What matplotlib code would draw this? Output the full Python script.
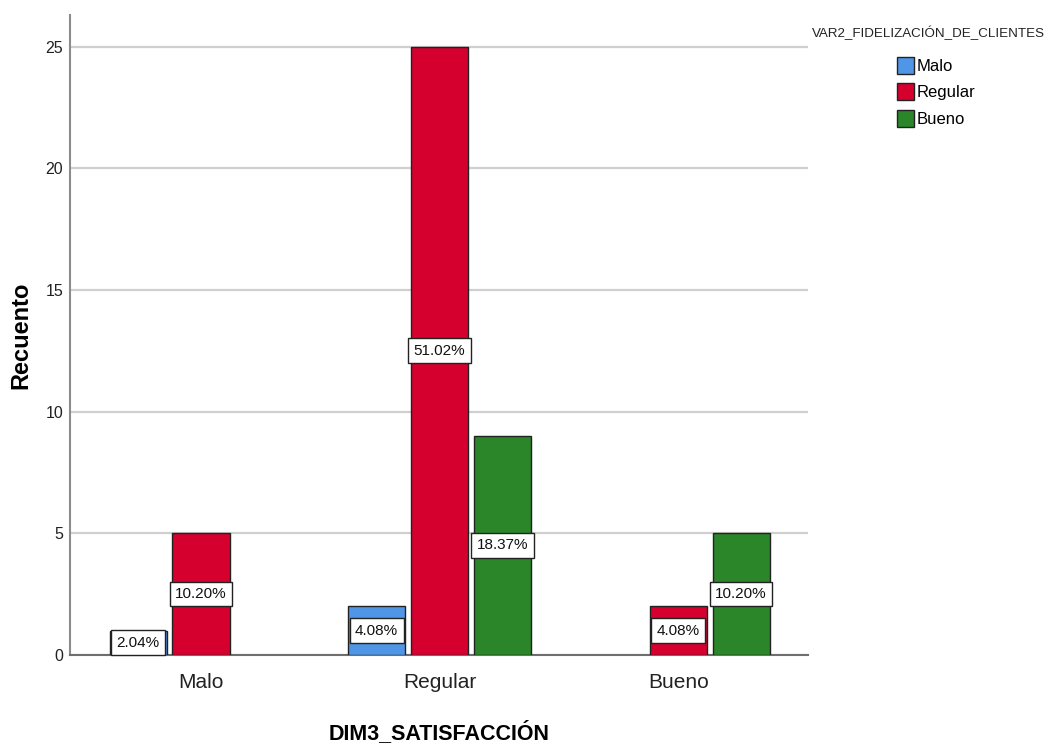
import matplotlib
matplotlib.use("Agg")
import matplotlib.pyplot as plt

plt.rcParams["font.family"] = ["Liberation Sans", "DejaVu Sans"]

categories = ["Malo", "Regular", "Bueno"]
series = ["Malo", "Regular", "Bueno"]
counts = {
    "Malo": [1, 2, 0],
    "Regular": [5, 25, 2],
    "Bueno": [0, 9, 5],
}
percents = {
    "Malo": ["2.04%", "4.08%", None],
    "Regular": ["10.20%", "51.02%", "4.08%"],
    "Bueno": [None, "18.37%", "10.20%"],
}
colors = {"Malo": "#5096E6", "Regular": "#D6002F", "Bueno": "#2A8629"}
y_ticks = [0, 5, 10, 15, 20, 25]

fig = plt.figure(figsize=(10.53, 7.46), dpi=100)
ax = fig.add_axes([0.0665, 0.122, 0.701, 0.858])

offset = 0.264
width = 0.239
for i, s in enumerate(series):
    for j, cat in enumerate(categories):
        v = counts[s][j]
        if v <= 0:
            continue
        x = j + (i - 1) * offset
        ax.bar(x, v, width=width, color=colors[s], edgecolor="#222222",
               linewidth=1.0, zorder=3)
        ax.text(x, v / 2, percents[s][j], ha="center", va="center", fontsize=11,
                color="#111111", zorder=4,
                bbox=dict(boxstyle="square,pad=0.35", fc="white", ec="#222222", lw=1.0))

ax.set_xlim(-0.549, 2.545)
ax.set_ylim(0, 26.3)
ax.set_yticks(y_ticks)
ax.set_yticklabels([str(t) for t in y_ticks], fontsize=11.5, color="#222222")
ax.set_xticks(range(len(categories)))
ax.set_xticklabels(categories, fontsize=15, color="#222222")
ax.tick_params(axis="both", length=0)
ax.tick_params(axis="y", pad=5)
ax.tick_params(axis="x", pad=13)
ax.yaxis.grid(True, color="#CFCFCF", linewidth=1.6, zorder=0)
ax.set_axisbelow(True)
for sp in ["top", "right"]:
    ax.spines[sp].set_visible(False)
ax.spines["left"].set_color("#8C8C8C")
ax.spines["left"].set_linewidth(1.5)
ax.spines["bottom"].set_color("#6E6E6E")
ax.spines["bottom"].set_linewidth(1.5)

ax.set_ylabel("Recuento", fontsize=17, fontweight="bold")
ax.yaxis.set_label_coords(-0.0515, 0.5)
ax.set_xlabel("DIM3_SATISFACCIÓN", fontsize=15.5, fontweight="bold", labelpad=21)

handles = [plt.Rectangle((0, 0), 1, 1, fc=colors[s], ec="#222222", lw=1.0) for s in series]
fig.text(0.882, 0.956, "VAR2_FIDELIZACIÓN_DE_CLIENTES", ha="center", va="center",
         fontsize=9.6, color="#222222")
fig.legend(handles, series, loc="upper left", bbox_to_anchor=(0.852, 0.924),
           frameon=False, fontsize=12, handlelength=1.0, handleheight=1.2,
           handletextpad=0.15, labelspacing=0.56, borderpad=0, borderaxespad=0)

fig.savefig("out.png", dpi=100)
